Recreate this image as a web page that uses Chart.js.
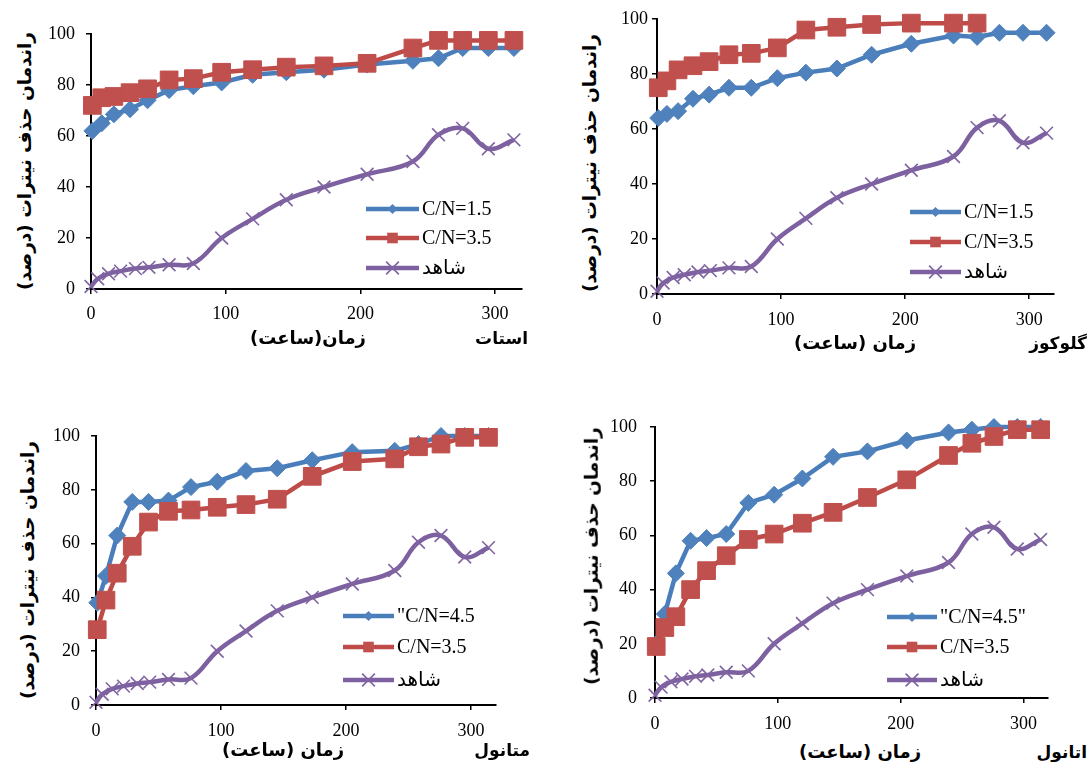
<!DOCTYPE html>
<html><head><meta charset="utf-8">
<script src="https://cdn.jsdelivr.net/npm/chart.js@4.4.1/dist/chart.umd.min.js"></script>
<style>
html,body{margin:0;padding:0;background:#fff;}
body{width:1089px;height:765px;position:relative;overflow:hidden;}
canvas{position:absolute;}
.t{position:absolute;font-family:"DejaVu Sans",sans-serif;font-weight:bold;font-size:18px;color:#000;white-space:nowrap;direction:rtl;line-height:1;}
.t.y{font-size:18.5px;}
.t.n{font-size:17px;}
</style></head><body>
<script>
// ---------------- data ----------------
const hours = [1, 8, 17, 29, 42, 58, 76, 97, 120, 145, 173, 205, 239, 258, 276, 295, 314];
const controlHours = [0, 5, 13, 22, 33, 43, 58, 76, 97, 120, 145, 173, 205, 239, 258, 276, 295, 314];
const controlValues = [1, 4, 6, 7, 8, 8.5, 9.5, 10, 20, 27.5, 35, 40, 45, 50, 60.5, 63, 55, 58.5];

const acetateCN15 = [62, 65, 68.5, 70.5, 74, 78, 79.5, 81, 84, 85, 86, 88, 89.5, 90.5, 94.5, 94.5, 94.5];
const acetateCN35 = [72, 75, 75.5, 77, 78.5, 82, 82.5, 85, 86, 87, 87.5, 88.5, 94.5, 97.5, 97.5, 97.5, 97.5];

const glucoseCN15 = [64, 65.5, 66.5, 71, 72.5, 75, 75, 78.5, 80.5, 82, 87, 91, 94, 93.5, 95, 95, 95];
const glucoseCN35 = [75, 77.5, 81.5, 83, 84.5, 87, 87.5, 89.5, 96, 97, 98, 98.5, 98.5, 98.5];

const methanolCN45 = [38, 48, 63, 75.5, 75.5, 76, 81, 83, 87, 88, 91, 94, 94.5, 97, 100, 100, 100];
const methanolCN35 = [28, 39, 49, 59, 68, 72, 72.5, 73.5, 74.5, 76.5, 85, 90.5, 91.5, 96, 97, 99.5, 99.5];

const ethanolCN45 = [20, 31, 46, 58, 59, 60.5, 72, 75, 81, 89, 91, 95, 98, 99, 100, 100, 100];
const ethanolCN35 = [19, 26, 30, 40, 47, 52.5, 58.5, 60.5, 64.5, 68.5, 74, 80.5, 89.5, 94, 96.5, 99, 99];

const xTicks = [0, 100, 200, 300];
const yTicks = [0, 20, 40, 60, 80, 100];

const labelsA = ['C/N=1.5', 'C/N=3.5', 'شاهد'];
const labelsB = ['"C/N=4.5', 'C/N=3.5', 'شاهد'];
const labelsC = ['"C/N=4.5"', 'C/N=3.5', 'شاهد'];

const yTitle = 'راندمان حذف نیترات (درصد)';
const yTitle2 = 'راندمان حذف نیترات  (درصد)';
const xTitle1 = 'زمان(ساعت)';
const xTitle = 'زمان (ساعت)';
const panelNames = ['استات', 'گلوکوز', 'متانول', 'اتانول'];

// ---------------- styling ----------------
const BLUE_L = '#4A7EBB', BLUE_M = '#4F81BD';
const RED_L = '#BE4B48', RED_M = '#C0504D';
const PUR_L = '#7D60A0', PUR_M = '#8064A2';

function pts(xs, ys) { return ys.map((y, i) => ({x: xs[i], y: y})); }

function seriesSet(blueVals, redVals, labels) {
  return [
    {label: labels[0], data: pts(hours, blueVals), borderColor: BLUE_L, backgroundColor: BLUE_M,
     pointStyle: 'rectRot', pointRadius: 8.5, pointBorderWidth: 1, pointBorderColor: BLUE_M, pointBackgroundColor: BLUE_M,
     borderWidth: 4.5, tension: 0, order: 3, legendRadius: 5},
    {label: labels[1], data: pts(hours, redVals), borderColor: RED_L, backgroundColor: RED_M,
     pointStyle: 'rect', pointRadius: 12.5, pointBorderWidth: 1, pointBorderColor: RED_M, pointBackgroundColor: RED_M,
     borderWidth: 4.5, tension: 0, order: 2, legendRadius: 7.5},
    {label: labels[2], data: pts(controlHours, controlValues), borderColor: PUR_L, backgroundColor: PUR_M,
     pointStyle: 'crossRot', pointRadius: 9, pointBorderWidth: 1.6, pointBorderColor: PUR_M, pointBackgroundColor: PUR_M,
     borderWidth: 4.5, tension: 0.4, order: 1, legendRadius: 9}
  ].map(d => Object.assign(d, {showLine: true, clip: false, fill: false}));
}

function drawMarker(ctx, style, x, y, r, color, bw) {
  ctx.save();
  ctx.fillStyle = color; ctx.strokeStyle = color; ctx.lineWidth = bw;
  ctx.beginPath();
  if (style === 'rectRot') {
    ctx.moveTo(x, y - r); ctx.lineTo(x + r, y); ctx.lineTo(x, y + r); ctx.lineTo(x - r, y); ctx.closePath(); ctx.fill();
  } else if (style === 'rect') {
    const s = r * Math.SQRT1_2; ctx.rect(x - s, y - s, 2 * s, 2 * s); ctx.fill();
  } else {
    const s = r * Math.SQRT1_2;
    ctx.moveTo(x - s, y - s); ctx.lineTo(x + s, y + s); ctx.moveTo(x + s, y - s); ctx.lineTo(x - s, y + s); ctx.stroke();
  }
  ctx.restore();
}

const insideLegend = {
  id: 'insideLegend',
  afterDraw(chart, args, o) {
    const ctx = chart.ctx;
    [0, 1, 2].forEach((i, k) => {
      const ds = chart.data.datasets[i];
      const y = o.rows[k] - o.top;
      const x0 = o.x0 - o.left, x1 = o.x1 - o.left;
      ctx.save();
      ctx.strokeStyle = ds.borderColor; ctx.lineWidth = 4.5; ctx.lineCap = 'butt';
      ctx.beginPath(); ctx.moveTo(x0, y); ctx.lineTo(x1, y); ctx.stroke();
      drawMarker(ctx, ds.pointStyle, (x0 + x1) / 2, y, ds.legendRadius, ds.pointBackgroundColor, ds.pointBorderWidth);
      ctx.fillStyle = '#000';
      ctx.font = '20px "Liberation Serif", "DejaVu Sans", serif';
      ctx.textBaseline = 'middle'; ctx.textAlign = 'left';
      ctx.fillText(ds.label, x1 + 3, y + 1);
      ctx.restore();
    });
  }
};

const Y_W = 55, X_H = 42, PAD_T = 28, PAD_R = 16;

function makePanel(area, datasets, legend, yPad, xPad) {
  const left = area.l - Y_W, top = area.t - PAD_T;
  const w = area.r - area.l + Y_W + PAD_R, h = area.b - area.t + PAD_T + X_H;
  const cv = document.createElement('canvas');
  cv.width = w; cv.height = h;
  cv.style.left = left + 'px'; cv.style.top = top + 'px';
  cv.style.width = w + 'px'; cv.style.height = h + 'px';
  document.body.appendChild(cv);
  const tickFont = {family: '"Liberation Serif", serif', size: 18};
  new Chart(cv, {
    type: 'scatter',
    data: {datasets: datasets},
    plugins: [insideLegend],
    options: {
      responsive: false, animation: false, devicePixelRatio: 1, events: [],
      layout: {padding: {top: PAD_T, right: PAD_R, left: 0, bottom: 0}},
      plugins: {legend: {display: false}, tooltip: {enabled: false},
        insideLegend: Object.assign({left: left, top: top}, legend)},
      scales: {
        x: {type: 'linear', min: 0, max: 320,
          afterBuildTicks: s => { s.ticks = xTicks.map(v => ({value: v})); },
          afterFit: s => { s.height = X_H; },
          grid: {drawOnChartArea: false, drawTicks: true, tickLength: 5, color: '#000', lineWidth: 1.5},
          border: {color: '#000', width: 2},
          ticks: {font: tickFont, color: '#000', padding: xPad, maxRotation: 0, autoSkip: false}},
        y: {type: 'linear', min: 0, max: 100,
          afterBuildTicks: s => { s.ticks = yTicks.map(v => ({value: v})); },
          afterFit: s => { s.width = Y_W; },
          grid: {drawOnChartArea: false, drawTicks: true, tickLength: 5, color: '#000', lineWidth: 1.5},
          border: {color: '#000', width: 2},
          ticks: {font: tickFont, color: '#000', padding: yPad}}
      }
    }
  });
}

function text(str, x, y, cls, anchor, rotate) {
  const d = document.createElement('div');
  d.className = 't ' + cls; d.textContent = str;
  d.style.left = x + 'px'; d.style.top = y + 'px';
  if (rotate) d.style.transform = 'translate(-50%,-50%) rotate(-90deg)';
  else if (anchor === 'right') d.style.transform = 'translate(-100%,-50%)';
  else d.style.transform = 'translate(-50%,-50%)';
  document.body.appendChild(d);
}

// panel 1: acetate
makePanel({l: 91, r: 522, t: 34, b: 289}, seriesSet(acetateCN15, acetateCN35, labelsA),
  {x0: 366, x1: 419, rows: [209, 238, 268]}, 11, 9);
// panel 2: glucose
makePanel({l: 657, r: 1054, t: 19, b: 294}, seriesSet(glucoseCN15, glucoseCN35, labelsA),
  {x0: 910, x1: 961, rows: [212, 242, 272]}, 4, 10);
// panel 3: methanol
makePanel({l: 96, r: 496, t: 436, b: 705}, seriesSet(methanolCN45, methanolCN35, labelsB),
  {x0: 343, x1: 394, rows: [616, 647, 680]}, 11, 10);
// panel 4: ethanol
makePanel({l: 655, r: 1048, t: 427, b: 698}, seriesSet(ethanolCN45, ethanolCN35, labelsC),
  {x0: 887, x1: 937, rows: [617, 647, 680]}, 13, 10);

// titles
text(yTitle, 25, 161, 'y', null, true);
text(yTitle2, 590, 163, 'y', null, true);
text(yTitle, 28, 570, 'y', null, true);
text(yTitle, 592, 556, 'y', null, true);
text(xTitle1, 308, 338, '');
text(xTitle, 855, 343, '');
text(xTitle, 283, 750, '');
text(xTitle, 860, 752, '');
text(panelNames[0], 528, 338, 'n', 'right');
text(panelNames[1], 1087, 343, 'n', 'right');
text(panelNames[2], 530, 750, 'n', 'right');
text(panelNames[3], 1087, 752, 'n', 'right');
</script>
</body></html>
